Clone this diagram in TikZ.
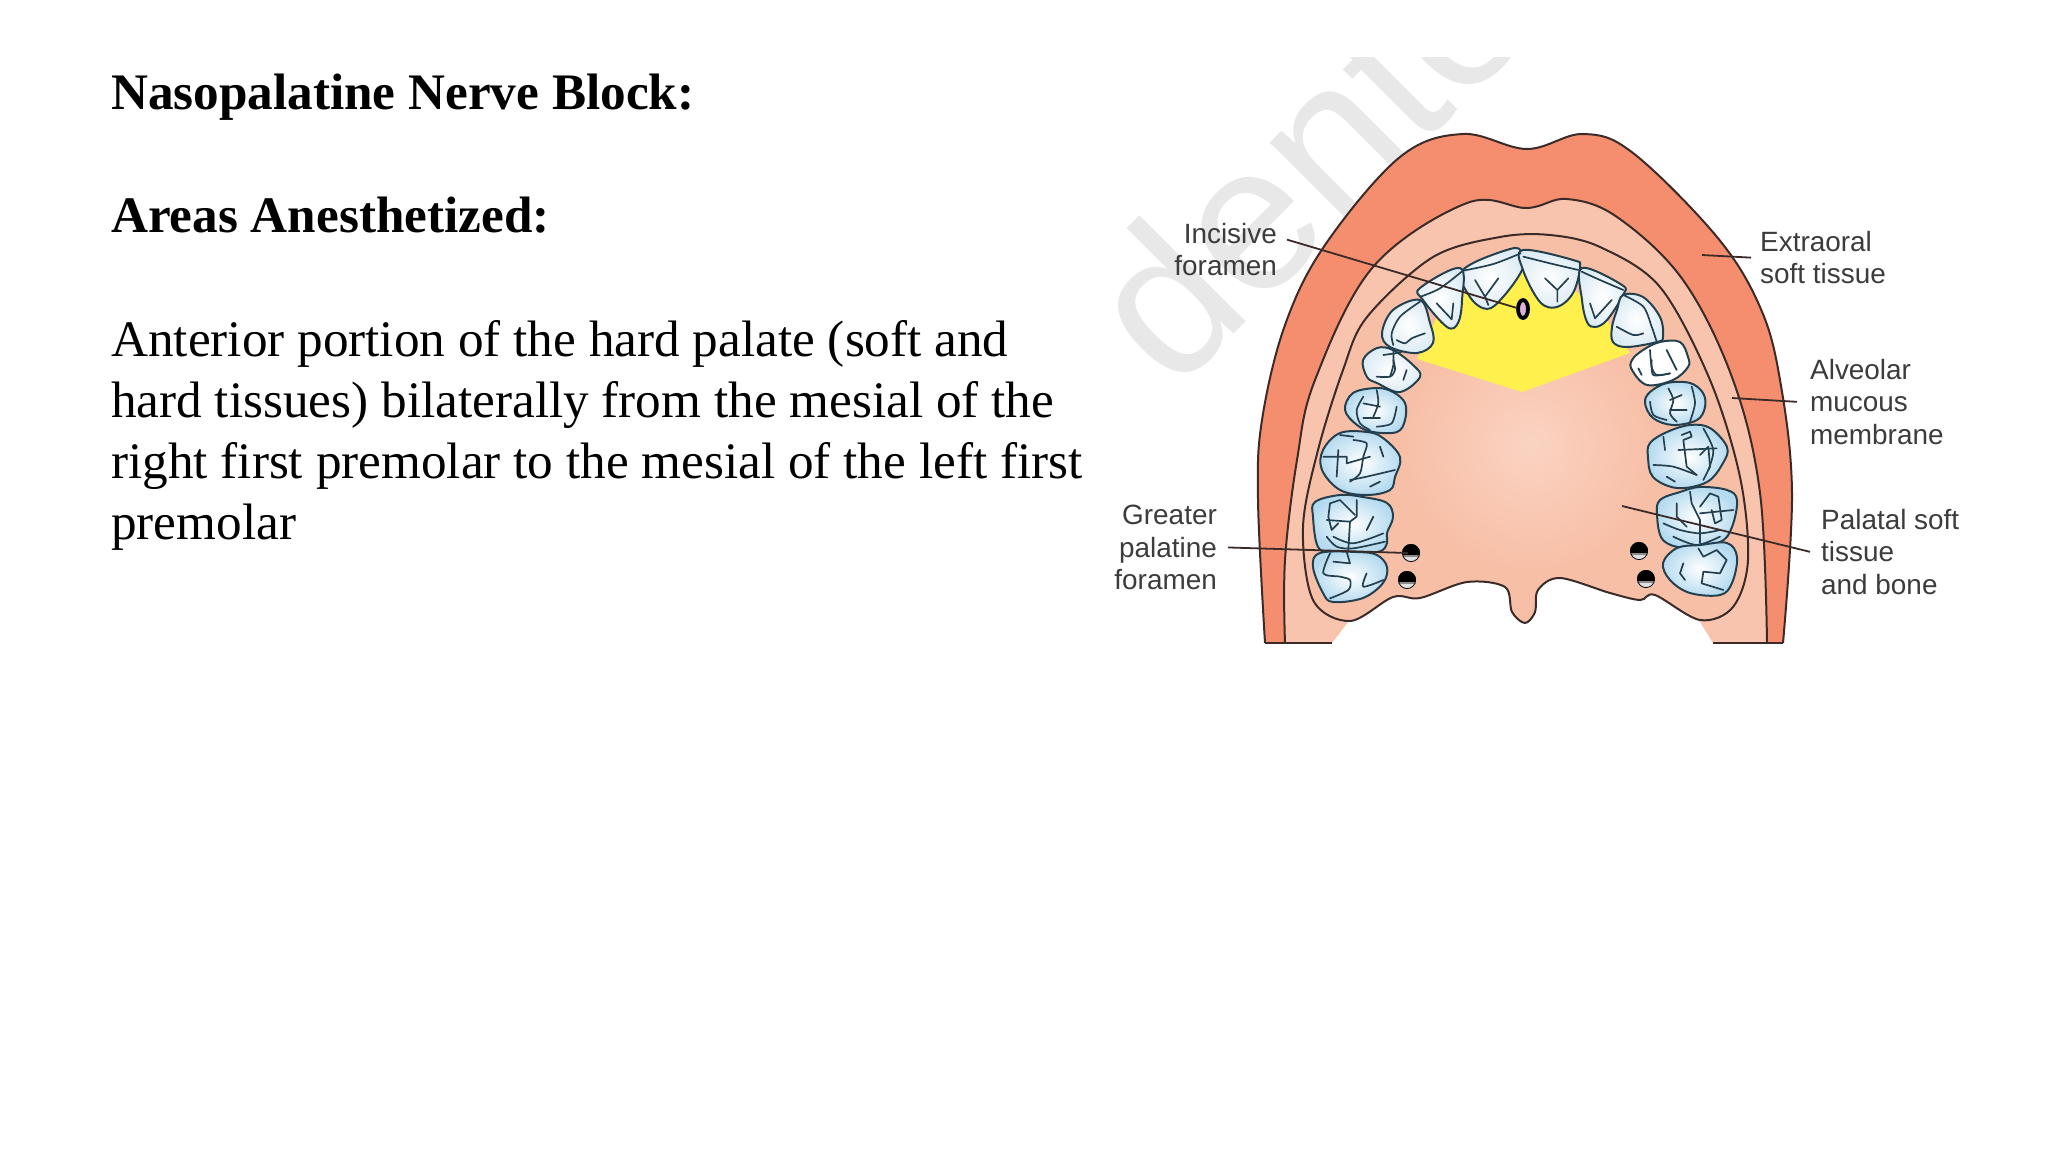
\documentclass[tikz,border=0pt]{standalone}
\usepackage{fontspec}
\setmainfont{Liberation Serif}
\newfontfamily\lblfont{Liberation Sans}
\definecolor{outerc}{HTML}{F58E6F}
\definecolor{mucc}{HTML}{F8C4AE}
\definecolor{palc}{HTML}{F8BFA7}
\definecolor{palhi}{HTML}{FAD3C2}
\definecolor{yelc}{HTML}{FFF04E}
\definecolor{inkc}{HTML}{3A2A28}
\definecolor{teethink}{HTML}{24404F}
\definecolor{lblc}{HTML}{3C3C3C}
\definecolor{wmark}{HTML}{E8E8E8}
\definecolor{molarc}{HTML}{B4DAEF}
\definecolor{frontc}{HTML}{DCEBF4}
\tikzset{
 headtext/.style={anchor=base west,inner sep=0,font=\fontsize{51.4}{61}\selectfont\bfseries},
 bodytext/.style={anchor=base west,inner sep=0,align=left,font=\fontsize{51.4}{61.2}\selectfont},
 lblL/.style={inner sep=0,align=left,text=lblc,font=\lblfont\fontsize{28}{32.5}\selectfont},
 lblR/.style={inner sep=0,align=right,text=lblc,font=\lblfont\fontsize{28}{32.5}\selectfont},
 contour/.style={draw=inkc,line width=2pt},
 leader/.style={draw=inkc,line width=1.8pt},
 fissure/.style={draw=teethink,line width=1.7pt,line cap=round,line join=round},
 molar/.style={draw=teethink,line width=2pt,inner color=white,outer color=molarc},
 front/.style={draw=teethink,line width=2pt,inner color=white,outer color=frontc},
}
\newcommand\outerline{plot[smooth,tension=.6] coordinates{(1265,643)(1258,500)(1262,420)(1285,325)(1325,245)(1400,157)(1463,134)(1527,149)(1583,134)(1633,153)(1717,237)(1760,307)(1780,380)(1792,493)(1783,643)}}
\newcommand\mucline{plot[smooth,tension=.6] coordinates{(1285,643)(1285,560)(1297,460)(1315,380)(1373,267)(1467,203)(1527,208)(1567,199)(1617,217)(1683,280)(1733,380)(1760,493)(1767,643)}}
\newcommand\fis[1]{\draw[fissure] plot[smooth,tension=.5] coordinates{#1};}
\begin{document}
\begin{tikzpicture}[x=1bp,y=-1bp]
\useasboundingbox (0,0) rectangle (2048,1152);
\fill[white] (0,0) rectangle (2048,1152);
% watermark
\begin{scope}
\clip (1100,57) rectangle (2000,660);
\node[rotate=45,anchor=base west,inner sep=0,text=wmark,font=\lblfont\fontsize{208}{208}\selectfont] (wm) at (1174,394) {dente};
\end{scope}
% text
\node[headtext] (title) at (111,109) {Nasopalatine Nerve Block:};
\node[headtext] (areas) at (111,232) {Areas Anesthetized:};
\node[bodytext] (body) at (111,539) {Anterior portion of the hard palate (soft and\\hard tissues) bilaterally from the mesial of the\\right first premolar to the mesial of the left first\\premolar};
% soft tissues
\fill[outerc] \outerline -- (1767,643) -- (1760,570) -- (1290,570) -- (1285,643) -- cycle;
\fill[mucc] \mucline -- (1713,643) -- (1700,622) -- (1680,570) -- (1370,570) -- (1348,622) -- (1332,643) -- cycle;
\draw[contour] \outerline;
\draw[contour] \mucline;
\draw[contour] (1265,643) -- (1332,643);
\draw[contour] (1713,643) -- (1783,643);
\path[fill=palc,contour] plot[smooth cycle,tension=.55] coordinates{(1343,370)(1318,450)(1303,527)(1313,600)(1350,621)(1393,597)(1420,598)(1467,582)(1505,587)(1512,612)(1525,623)(1535,612)(1538,590)(1560,578)(1610,593)(1640,600)(1655,595)(1700,620)(1733,607)(1748,560)(1740,477)(1710,380)(1660,287)(1600,247)(1550,235)(1500,237)(1433,257)(1367,317)};
\shade[inner color=palhi,outer color=palc] (1530,445) circle[radius=125];
\fill[yelc] (1522,250) -- (1440,310) -- (1417,359) -- (1522,392) -- (1630,353) -- (1600,310) -- cycle;
% teeth
\shade[front] plot[smooth cycle,tension=.6] coordinates{(1522,253)(1510,249)(1463,270)(1470,297)(1487,309)(1503,297)(1522,270)};
\shade[front] plot[smooth cycle,tension=.6] coordinates{(1523,250)(1573,260)(1580,267)(1573,293)(1557,307)(1540,302)(1523,270)};
\shade[front] plot[smooth cycle,tension=.6] coordinates{(1460,268)(1420,288)(1423,300)(1447,327)(1458,323)(1462,300)};
\shade[front] plot[smooth cycle,tension=.6] coordinates{(1582,268)(1622,285)(1623,295)(1607,320)(1595,327)(1587,322)(1582,300)};
\shade[front] plot[smooth cycle,tension=.6] coordinates{(1420,300)(1393,310)(1382,333)(1390,347)(1417,353)(1433,343)(1430,323)};
\shade[front] plot[smooth cycle,tension=.6] coordinates{(1623,295)(1643,297)(1660,317)(1663,337)(1657,342)(1627,347)(1613,342)(1612,327)(1617,310)};
\shade[front] plot[smooth cycle,tension=.6] coordinates{(1377,348)(1363,360)(1367,377)(1377,383)(1400,392)(1420,377)(1413,365)(1393,350)};
\shade[front,outer color=white] plot[smooth cycle,tension=.6] coordinates{(1660,342)(1680,342)(1688,357)(1688,367)(1673,380)(1647,385)(1632,370)(1632,360)(1643,350)};
\shade[molar] plot[smooth cycle,tension=.6] coordinates{(1377,388)(1353,393)(1345,410)(1357,425)(1373,432)(1397,432)(1405,420)(1405,403)(1393,392)};
\shade[molar] plot[smooth cycle,tension=.6] coordinates{(1340,433)(1323,450)(1322,470)(1340,490)(1367,495)(1390,490)(1395,477)(1400,457)(1383,438)(1367,432)};
\shade[molar] plot[smooth cycle,tension=.6] coordinates{(1340,495)(1315,502)(1313,517)(1318,547)(1333,552)(1377,552)(1387,543)(1387,533)(1393,517)(1387,503)(1363,497)};
\shade[molar] plot[smooth cycle,tension=.6] coordinates{(1320,553)(1313,567)(1323,593)(1333,602)(1363,598)(1383,583)(1387,567)(1377,555)(1357,552)};
\shade[molar] plot[smooth cycle,tension=.6] coordinates{(1667,383)(1650,392)(1645,403)(1653,418)(1673,425)(1697,420)(1705,407)(1703,393)(1690,383)};
\shade[molar] plot[smooth cycle,tension=.6] coordinates{(1667,432)(1650,443)(1648,457)(1653,477)(1677,488)(1707,482)(1723,463)(1727,447)(1710,428)(1690,425)};
\shade[molar] plot[smooth cycle,tension=.6] coordinates{(1680,492)(1660,500)(1657,515)(1663,540)(1687,548)(1720,542)(1732,527)(1737,500)(1727,490)(1700,487)};
\shade[molar] plot[smooth cycle,tension=.6] coordinates{(1677,548)(1663,563)(1670,580)(1690,593)(1720,595)(1732,583)(1737,557)(1727,543)(1700,545)};
% fissures, upper left
\begin{scope}[shift={(1100,40)},scale=1/3]
\fis{(1090,692)(1180,672)(1262,640)}
\draw[fissure] (1125,720)--(1155,770)--(1195,715) (1155,770)--(1165,795);
\fis{(962,770)(1020,745)(1085,695)}
\draw[fissure] (1010,790)--(1055,838)--(1060,790);
\fis{(960,785)(900,830)(875,880)(880,915)}
\fis{(890,900)(915,910)(935,895)(975,880)}
\fis{(880,935)(880,975)(870,1010)}
\fis{(850,945)(885,940)(905,935)}
\end{scope}
% fissures, upper right
\begin{scope}[shift={(1500,40)},scale=1/3]
\fis{(70,650)(150,670)(235,690)}
\draw[fissure] (135,715)--(172,750)--(205,715) (172,750)--(172,785);
\fis{(245,695)(300,720)(370,750)}
\draw[fissure] (270,790)--(285,835)--(335,780);
\fis{(370,765)(430,800)(455,860)(470,905)}
\fis{(350,860)(400,885)(430,880)}
\fis{(450,930)(455,980)(470,1005)(510,1000)}
\fis{(500,930)(530,990)}
\fis{(415,985)(425,1005)}
\end{scope}
% fissures, lower left
\begin{scope}[shift={(1100,360)},scale=1/3]
\fis{(880,0)(885,30)(870,50)(830,50)}
\fis{(920,30)(910,60)}
\fis{(790,110)(770,150)(780,190)(810,210)}
\fis{(830,90)(835,130)(820,170)}
\fis{(790,130)(840,140)}
\fis{(790,175)(840,175)}
\fis{(830,200)(875,190)(890,140)}
\draw[fissure] (670,290)--(740,290)--(740,310)--(810,290);
\fis{(715,270)(710,350)}
\fis{(760,240)(800,250)(790,290)(780,340)(750,365)}
\fis{(750,360)(800,350)(885,330)}
\fis{(840,260)(850,290)}
\fis{(810,380)(840,365)}
\fis{(720,225)(760,230)}
\draw[fissure] (680,480)--(750,485);
\draw[fissure] (685,470)--(690,430)--(720,420)--(765,465);
\draw[fissure] (770,420)--(770,470)--(750,485)--(745,570);
\draw[fissure] (685,470)--(695,510)--(715,490);
\fis{(680,530)(710,560)(760,565)(855,545)}
\fis{(700,530)(760,550)(850,520)}
\fis{(800,510)(820,470)}
\fis{(690,580)(670,640)(720,650)(750,660)(745,690)(690,715)}
\draw[fissure] (740,575)--(750,610)--(700,605);
\fis{(800,640)(790,680)(850,660)}
\end{scope}
% fissures, lower right
\begin{scope}[shift={(1500,360)},scale=1/3]
\fis{(455,0)(460,45)(510,40)}
\fis{(505,85)(520,120)(510,160)(530,185)}
\fis{(575,80)(585,130)(570,185)}
\fis{(510,120)(545,105)}
\fis{(510,150)(560,150)}
\fis{(450,125)(460,165)(500,180)}
\draw[fissure] (535,270)--(650,265);
\draw[fissure] (545,225)--(570,215)--(575,230)--(550,240)--(560,320)--(590,345);
\draw[fissure] (600,285)--(625,260)--(630,320)--(610,360);
\fis{(610,205)(640,270)(625,330)}
\fis{(490,230)(495,270)}
\fis{(460,315)(520,320)(590,345)}
\fis{(500,350)(525,365)}
\draw[fissure] (600,460)--(700,450);
\draw[fissure] (600,440)--(630,400)--(655,410)--(665,480)--(645,490)--(635,450);
\draw[fissure] (570,395)--(575,430)--(600,480)--(600,550);
\draw[fissure] (530,430)--(530,470)--(560,500);
\fis{(490,490)(540,510)(600,520)(660,510)}
\fis{(520,530)(590,555)(660,530)}
\draw[fissure] (595,565)--(610,590)--(650,570)--(680,600)--(660,640)--(610,635)--(605,670)--(670,690);
\draw[fissure] (550,610)--(540,640)--(555,660);
\end{scope}
% foramina
\path[draw=black,line width=3.8pt,fill=violet!30] (1523,309) ellipse[x radius=5,y radius=9];
\foreach \px/\py in {1411/553,1407/580,1639/551,1646/579}{
 \begin{scope}
 \clip (\px,\py) circle[radius=9];
 \fill[white!88!black] (\px-9,\py-9) rectangle (\px+9,\py+9);
 \fill[black] (\px-9,\py-9) rectangle (\px+9,\py+1.5);
 \fill[black!45] (\px-9,\py+1.5) rectangle (\px+9,\py+4);
 \end{scope}
 \draw[black,line width=.8pt] (\px,\py) circle[radius=8.6];
}
% labels
\node[lblR,anchor=north east] (incisive) at (1277,223) {Incisive\\foramen};
\node[lblL,anchor=north west] (extra) at (1760,231) {Extraoral\\soft tissue};
\node[lblL,anchor=north west] (alveolar) at (1810,359) {Alveolar\\mucous\\membrane};
\node[lblL,anchor=north west] (palatal) at (1821,509) {Palatal soft\\tissue\\and bone};
\node[lblR,anchor=north east] (greater) at (1217,505) {Greater\\palatine\\foramen};
\coordinate (incEnd) at (1517,308);
\coordinate (extraEnd) at (1702,255);
\coordinate (alvEnd) at (1732,398);
\coordinate (palEnd) at (1622,506);
\coordinate (grEnd) at (1408,553);
\draw[leader] ([shift={(10,-10)}]incisive.east) -- (incEnd);
\draw[leader] ([shift={(-9,0)}]extra.west) -- (extraEnd);
\draw[leader] ([shift={(-13,0)}]alveolar.west) -- (alvEnd);
\draw[leader] ([shift={(-11,0)}]palatal.west) -- (palEnd);
\draw[leader] ([shift={(11,0)}]greater.east) -- (grEnd);
\end{tikzpicture}
\end{document}
